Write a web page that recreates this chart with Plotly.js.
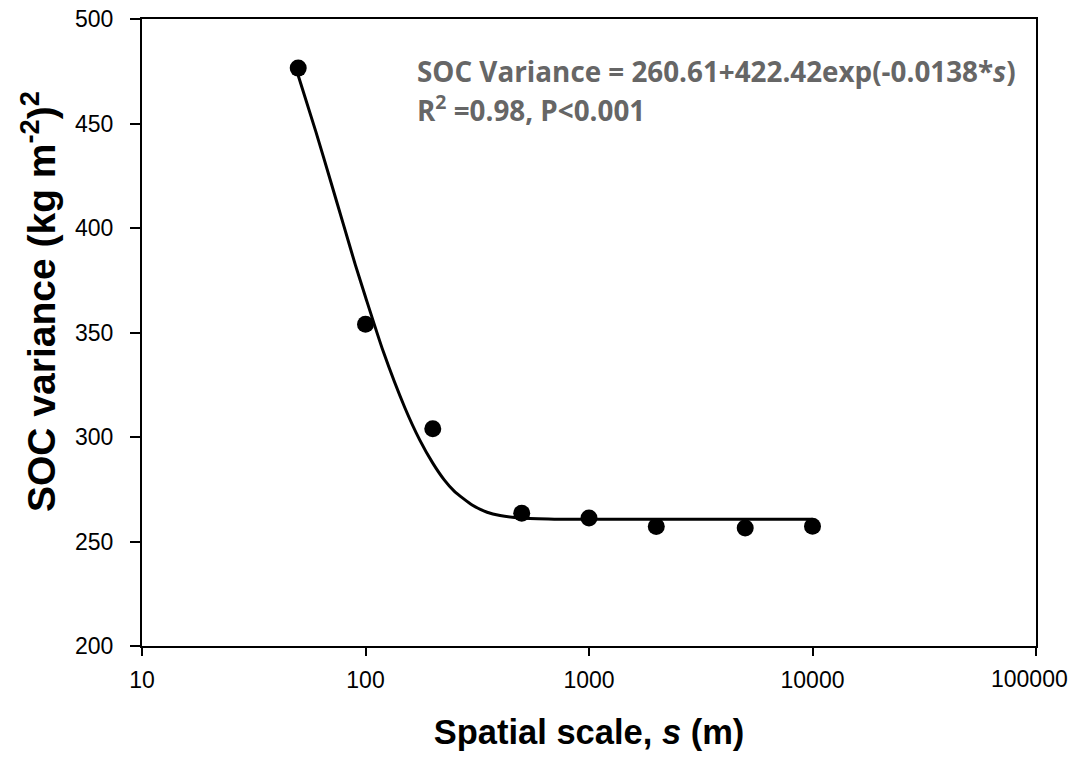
<!DOCTYPE html>
<html>
<head>
<meta charset="utf-8">
<script src="https://cdn.plot.ly/plotly-3.0.1.min.js"></script>
<style>html,body{margin:0;padding:0;background:#fff;}#chart{width:1072px;height:757px;}</style>
</head>
<body>
<div id="chart"></div>
<script>
// Observed data points
const scale = [50, 100, 200, 500, 1000, 2000, 5000, 10000];
const variance = [476.5, 354, 304, 263.5, 261.2, 257.2, 256.5, 257.3];

// Fitted curve
const fitScale = [50, 60, 70, 80, 90, 100, 120, 150, 175, 200, 225, 250, 300, 350, 400, 500, 700, 1000, 2000, 5000, 10000];
const fitValues = [473, 446, 422, 401, 382.5, 367, 341, 314, 298.5, 287.5, 279.5, 274, 267.5, 264, 262.4, 261.2, 260.7, 260.6, 260.6, 260.6, 260.6];

const xTicks = [10, 100, 1000, 10000, 100000];
// the last label is drawn as an annotation, nudged left so it stays on the page
const xTickText = ['10', '100', '1000', '10000', ''];
const lastTickText = '100000';
const yTicks = [200, 250, 300, 350, 400, 450, 500];

const xTitle = '<b>Spatial scale, <i>s</i> (m)</b>';
const yTitle = '<b>SOC variance (kg m<sup>-2</sup>)<sup>2</sup></b>';
const eqLine1 = 'SOC Variance = 260.61+422.42exp(-0.0138*<i>s</i>)';
const eqLine2 = 'R<sup>2</sup> =0.98, P<0.001';

const traces = [
  {
    x: fitScale, y: fitValues, type: 'scatter', mode: 'lines',
    line: {color: '#000', width: 3, shape: 'spline', smoothing: 0.6},
    hoverinfo: 'skip', showlegend: false
  },
  {
    x: scale, y: variance, type: 'scatter', mode: 'markers',
    marker: {color: '#000', size: 17},
    showlegend: false
  }
];

const tickFont = {family: 'Liberation Sans, Arial, sans-serif', size: 23, color: '#000'};
const titleFont = {family: 'Liberation Sans, Arial, sans-serif', size: 34.5, color: '#000', weight: 'bold'};

const layout = {
  width: 1072, height: 757,
  margin: {l: 142, r: 36, t: 19, b: 111},
  paper_bgcolor: '#fff', plot_bgcolor: '#fff',
  xaxis: {
    type: 'log', range: [0.99999, 5.00001],
    tickvals: xTicks, ticktext: xTickText,
    ticks: 'outside', ticklen: 8, tickwidth: 2, tickcolor: '#000',
    showline: true, linewidth: 2, linecolor: '#000', mirror: true,
    showgrid: false, zeroline: false,
    tickfont: tickFont, ticklabelstandoff: 4,
    title: {text: xTitle, font: titleFont, standoff: 28},
    automargin: false
  },
  yaxis: {
    range: [200, 500],
    tickvals: yTicks,
    ticks: 'outside', ticklen: 10, tickwidth: 2, tickcolor: '#000',
    showline: true, linewidth: 2, linecolor: '#000', mirror: true,
    showgrid: false, zeroline: false,
    tickfont: tickFont, ticklabelstandoff: 12,
    automargin: false
  },
  annotations: [
    {
      xref: 'paper', yref: 'paper', x: (1070 - 142) / 894, y: -(679 - 646) / 627,
      xanchor: 'right', yanchor: 'middle', showarrow: false,
      text: lastTickText, font: tickFont
    },
    {
      xref: 'paper', yref: 'paper', x: -(142 - 39) / 894, y: 1 - (302 - 19) / 627,
      xanchor: 'center', yanchor: 'middle', showarrow: false, textangle: -90,
      text: yTitle,
      font: {family: 'Liberation Sans, Arial, sans-serif', size: 39, color: '#000'}
    },
    {
      xref: 'paper', yref: 'paper', x: (415 - 142) / 894, y: 1 - (50 - 19) / 627,
      xanchor: 'left', yanchor: 'top', showarrow: false,
      text: '<b>' + eqLine1 + '</b>',
      font: {family: 'Open Sans, sans-serif', size: 27.8, color: '#666666'}
    },
    {
      xref: 'paper', yref: 'paper', x: (415 - 142) / 894, y: 1 - (86 - 19) / 627,
      xanchor: 'left', yanchor: 'top', showarrow: false,
      text: '<b>' + eqLine2 + '</b>',
      font: {family: 'Open Sans, sans-serif', size: 27.8, color: '#666666'}
    }
  ]
};

Plotly.newPlot('chart', traces, layout, {displayModeBar: false, staticPlot: true});
</script>
</body>
</html>
